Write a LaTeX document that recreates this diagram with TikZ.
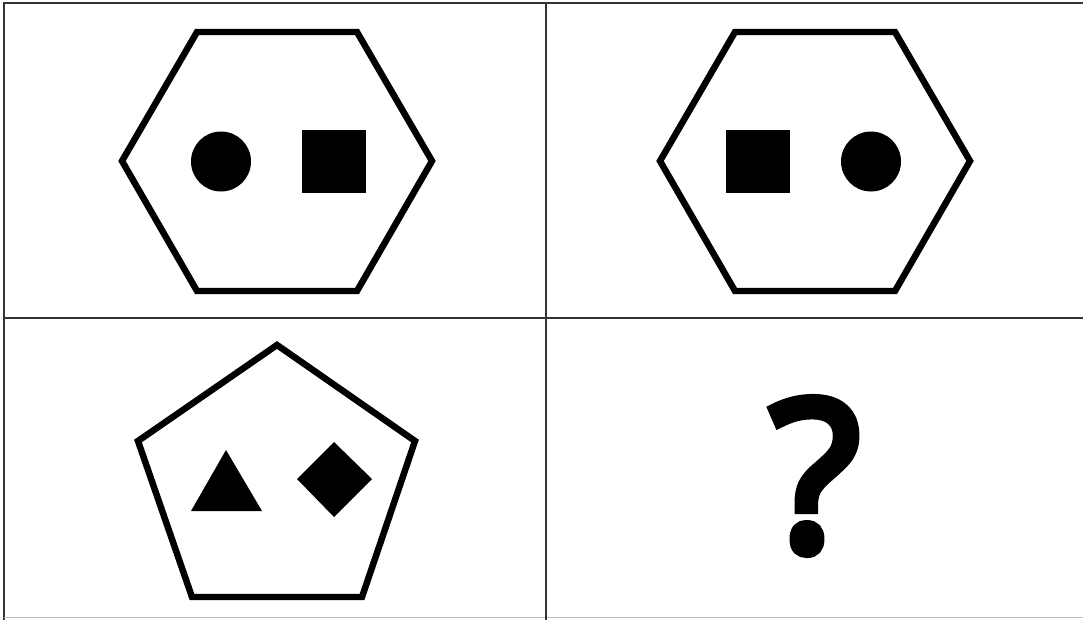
\documentclass[tikz,border=0pt]{standalone}
\usepackage{fontspec}
\newfontfamily\qfont{Open Sans}[FakeBold=5]
\usepackage{tikz}

\begin{document}
\begin{tikzpicture}[x=0.025cm,y=-0.025cm,
    grid/.style={draw=black!80,line width=1.4pt},
    outline/.style={draw=black,line width=4.6pt,line join=miter},
    solid shape/.style={fill=black}]
  \useasboundingbox (0,0) rectangle (1083,619);
  \clip (0,0) rectangle (1083,619);
  \fill[white] (0,0) rectangle (1083,619);
  % frame and grid
  \draw[grid] (4,625) -- (4,3) -- (1090,3);
  \draw[black!25,line width=0.8pt] (4,617.5) -- (1090,617.5);
  \draw[grid] (546,3) -- (546,625);
  \draw[grid] (4,318) -- (1090,318);
  % top left: circle then square
  \draw[outline] (197,32) -- (357,32) -- (432,161) -- (357,291) -- (197,291) -- (122,161) -- cycle;
  \fill[solid shape] (221,161.5) circle (30);
  \fill[solid shape] (302,130) rectangle (366,193);
  % top right: square then circle
  \draw[outline] (735,32) -- (895,32) -- (970,161) -- (895,291) -- (735,291) -- (660,161) -- cycle;
  \fill[solid shape] (726,130) rectangle (790,193);
  \fill[solid shape] (871,161.5) circle (30);
  % bottom left: triangle then diamond
  \draw[outline] (277,345) -- (415,441) -- (362,597) -- (192,597) -- (138,441) -- cycle;
  \fill[solid shape] (226,450) -- (262,511) -- (191,511) -- cycle;
  \fill[solid shape] (334,442) -- (372,479) -- (334,517) -- (297,479) -- cycle;
  % bottom right
  \node[inner sep=0pt,font=\qfont\fontsize{148}{148}\selectfont] (ask) at (815,476) {?};
\end{tikzpicture}
\end{document}
